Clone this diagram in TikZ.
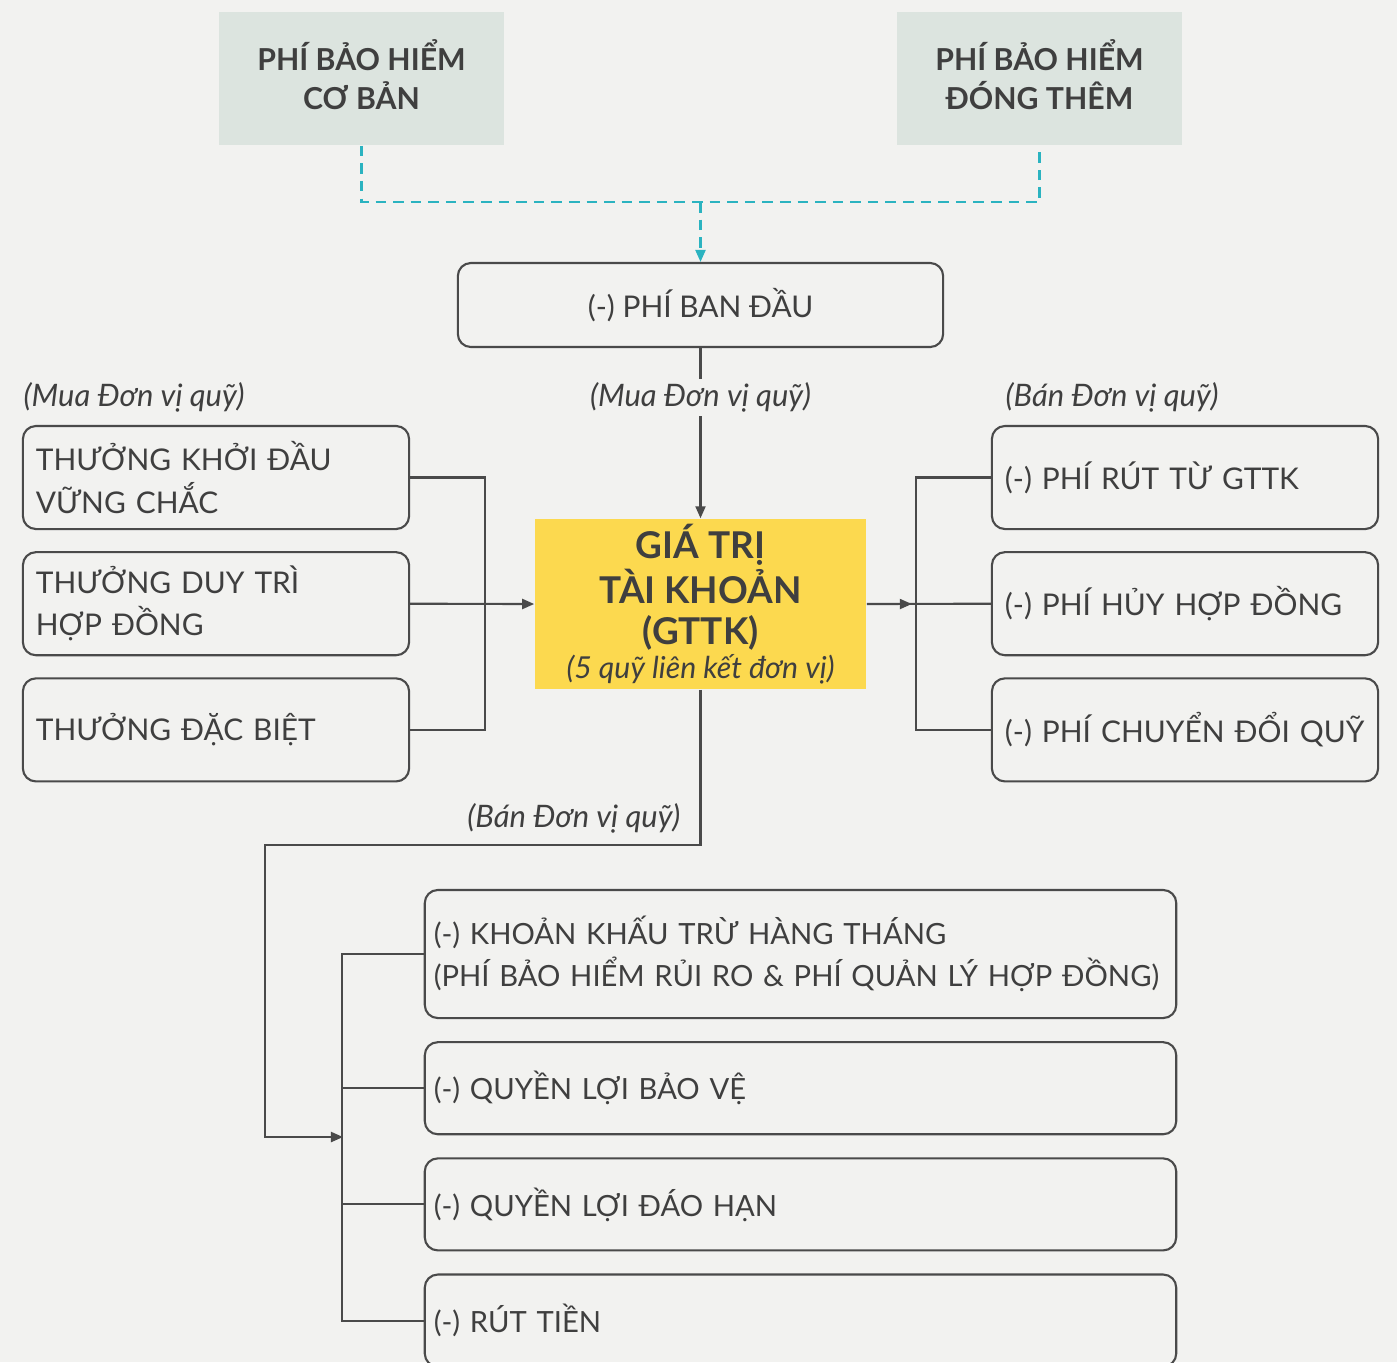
\documentclass[tikz,border=0pt]{standalone}
\usepackage{fontspec}
\setmainfont{Lato}
\usepackage{xcolor}
\usepackage{tikz}
\usetikzlibrary{arrows.meta,positioning,calc}

\definecolor{txtgray}{HTML}{3F3F3F}
\definecolor{linegray}{HTML}{4A4A4A}
\definecolor{premiumgreen}{HTML}{DCE4DF}
\definecolor{gttkyellow}{HTML}{FCD94F}
\definecolor{dashcyan}{HTML}{2BB3C0}
\definecolor{bgwhite}{HTML}{F2F2F0}

\begin{document}
\begin{tikzpicture}[
    x=0.01cm, y=-0.01cm,
    node distance=0.21cm and 0.8cm,
    premium/.style={fill=premiumgreen, minimum width=2.85cm, minimum height=1.33cm, align=center, text=txtgray, font=\fontsize{8.6}{11}\selectfont\bfseries},
    fee/.style={draw=linegray, line width=0.6pt, rounded corners=0.13cm, minimum width=3.86cm, minimum height=1.03cm, inner xsep=0.13cm, text width=3.6cm, align=left, text=txtgray, font=\fontsize{8.5}{12}\selectfont},
    payout/.style={fee, minimum width=7.51cm, minimum height=0.92cm, inner xsep=0.09cm, text width=7.33cm, font=\fontsize{8.3}{12}\selectfont},
    account/.style={fill=gttkyellow, minimum width=3.31cm, minimum height=1.70cm, inner ysep=0pt, align=center, text=txtgray, font=\fontsize{10.5}{11.6}\selectfont\bfseries},
    unitlabel/.style={text=txtgray, inner xsep=0pt, font=\fontsize{8.8}{10}\selectfont\itshape},
    flow/.style={draw=linegray, line width=0.6pt, -{Triangle[length=0.12cm, width=0.1cm]}},
    link/.style={draw=linegray, line width=0.6pt},
    dashflow/.style={draw=dashcyan, line width=0.6pt, dash pattern=on 3pt off 2pt}
]
    % background
    \fill [bgwhite] (0,0) rectangle (1397,1362);
    \useasboundingbox (0,0) rectangle (1397,1362);
    \clip (0,0) rectangle (1397,1362);

    % premiums
    \node [premium] (basic) at (361.5,78.5) {PHÍ BẢO HIỂM \\ CƠ BẢN \\[-8.7pt]};
    \node [premium] (topup) at (1039.5,78.5) {PHÍ BẢO HIỂM \\ ĐÓNG THÊM \\[-8.7pt]};
    \node [fee, minimum width=4.85cm, minimum height=0.84cm, text width=, align=center] (initfee) at (700.5,305) {(-) PHÍ BAN ĐẦU};

    % account value
    \node [account] (gttk) at (700.5,604) {GIÁ TRỊ \\ TÀI KHOẢN \\ (GTTK) \\[-2pt] {\fontsize{8.6}{11}\selectfont\mdseries\itshape (5 quỹ liên kết đơn vị)}};

    % bonuses (left)
    \node [fee] (startbonus) at (216,477.5) {THƯỞNG KHỞI ĐẦU \\ VỮNG CHẮC};
    \node [fee, below=of startbonus] (keepbonus) {THƯỞNG DUY TRÌ \\ HỢP ĐỒNG};
    \node [fee, below=of keepbonus] (specialbonus) {THƯỞNG ĐẶC BIỆT};

    % charges (right)
    \node [fee] (withdrawfee) at (1185,477.5) {(-) PHÍ RÚT TỪ GTTK};
    \node [fee, below=of withdrawfee] (cancelfee) {(-) PHÍ HỦY HỢP ĐỒNG};
    \node [fee, below=of cancelfee] (switchfee) {(-) PHÍ CHUYỂN ĐỔI QUỸ};

    % deductions (bottom)
    \node [payout, minimum height=1.28cm] (monthly) at (800.5,954) {(-) KHOẢN KHẤU TRỪ HÀNG THÁNG \\ (PHÍ BẢO HIỂM RỦI RO \& PHÍ QUẢN LÝ HỢP ĐỒNG)};
    \node [payout, below=0.22cm of monthly] (protect) {(-) QUYỀN LỢI BẢO VỆ};
    \node [payout, below=0.22cm of protect] (maturity) {(-) QUYỀN LỢI ĐÁO HẠN};
    \node [payout, below=0.22cm of maturity] (cashout) {(-) RÚT TIỀN};

    % unit labels
    \node [unitlabel, anchor=west] (buyleft) at (23,397) {(Mua Đơn vị quỹ)};
    \node [unitlabel, anchor=west] (sellright) at (1005,397) {(Bán Đơn vị quỹ)};
    \node [unitlabel, anchor=east] (selldown) at (681,818) {(Bán Đơn vị quỹ)};

    % premiums into initial fee
    \coordinate (dashjoin) at (700.5,202);
    \draw [dashflow] (basic.south) |- (dashjoin) -| (topup.south);
    \draw [dashflow, -{Triangle[length=0.12cm, width=0.1cm]}] (dashjoin) -- (initfee.north);

    % initial fee into account
    \draw [flow] (initfee.south) -- node [pos=0.29, unitlabel, fill=bgwhite, inner ysep=1pt] (buymid) {(Mua Đơn vị quỹ)} (gttk.north);

    % bonuses
    \draw [link] (startbonus.east) -- ++(75,0) |- (specialbonus.east);
    \draw [flow] (keepbonus.east) -- (gttk.west);

    % charges
    \draw [link] (gttk.east) -- (cancelfee.west);
    \draw [flow] (gttk.east) -- ++(45,0);
    \draw [link] (withdrawfee.west) -- ++(-75,0) |- (switchfee.west);

    % deductions
    \coordinate (sellcorner) at (265,845);
    \coordinate (dedbus) at (343,1137);
    \draw [flow] (gttk.south) |- (sellcorner) |- (dedbus);
    \draw [link] (monthly.west) -- ++(-82,0) |- (cashout.west);
    \draw [link] (protect.west) -- ++(-82,0);
    \draw [link] (maturity.west) -- ++(-82,0);

\end{tikzpicture}
\end{document}
